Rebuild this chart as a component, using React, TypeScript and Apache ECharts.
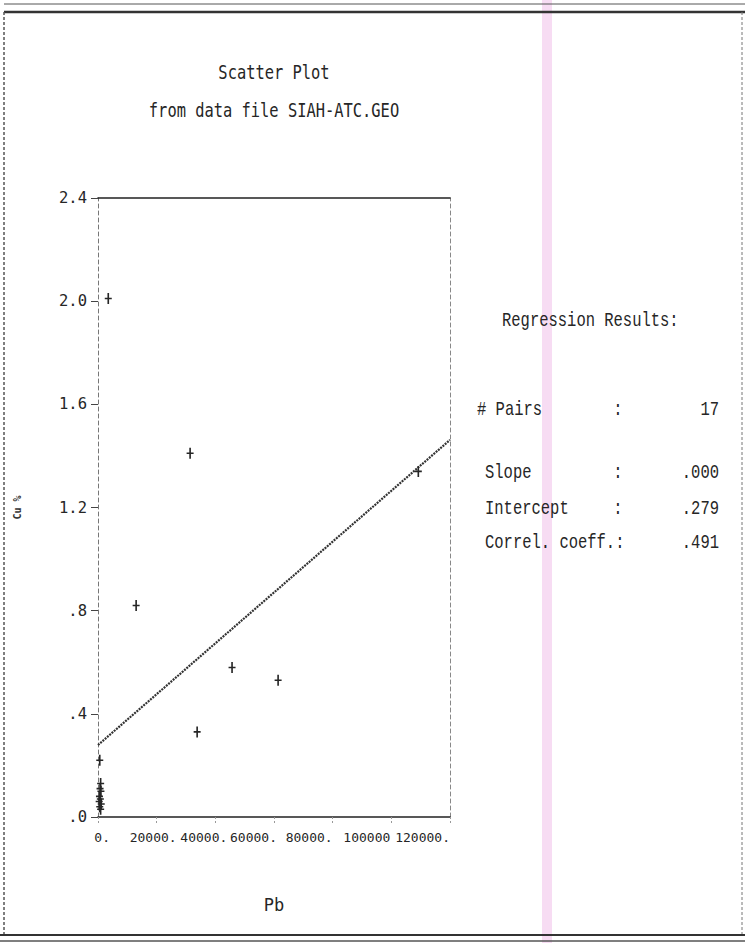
import React, { useEffect, useRef } from "react";
import * as echarts from "echarts";

// ---------- data ----------
const titleLines = ["Scatter Plot", "from data file SIAH-ATC.GEO"];
const xAxisName = "Pb";
const yAxisName = "Cu %";

const pbValues = [3500, 13000, 31400, 33800, 45700, 61400, 109200, 600, 900, 700, 1000, 500, 800, 400, 1100, 600, 900];
const yValues = [2.01, 0.82, 1.41, 0.33, 0.58, 0.53, 1.34, 0.22, 0.13, 0.11, 0.1, 0.08, 0.07, 0.06, 0.05, 0.04, 0.03];

const regressionX = [0, 120000];
const regressionY = [0.279, 1.462];

const xTickLabels = ["0.", "20000.", "40000.", "60000.", "80000.", "100000", "120000."];
const yTickLabels = [".0", ".4", ".8", "1.2", "1.6", "2.0", "2.4"];

const resultsTitle = "Regression Results:";
const resultLabels = ["# Pairs", "Slope", "Intercept", "Correl. coeff.:"];
const resultValues = ["17", ".000", ".279", ".491"];

// ---------- layout ----------
const W = 745;
const H = 943;
const rowY = [410, 473, 509, 543];
const labelX = [477, 485, 485, 485];
const xLabelShift = [12, 20, 12, 3, 0, -1, 0];

export default function App() {
  const ref = useRef<HTMLDivElement>(null);

  useEffect(() => {
    if (!ref.current) return;
    const chart = echarts.init(ref.current, null, { renderer: "svg" });
    const ink = "#262626";
    const mono = "'DejaVu Sans Mono', 'Liberation Mono', monospace";
    const mono2 = "'Liberation Mono', 'DejaVu Sans Mono', monospace";

    const scatterData = pbValues.map((x, i) => [x, yValues[i]]);
    const lineData = regressionX.map((x, i) => [x, regressionY[i]]);

    const rich: any = {};
    xLabelShift.forEach((s, i) => {
      rich["t" + i] = {
        fontFamily: mono,
        fontSize: 13,
        color: ink,
        padding: s >= 0 ? [0, -s, 0, 0] : [0, -s, 0, 0],
      };
    });

    const resultText = (t: string, x: number, y: number, align: string) => ({
      type: "text",
      x,
      y,
      scaleY: 1.35,
      style: { text: t, fill: ink, font: `15.5px ${mono2}`, align, verticalAlign: "middle" },
    });

    const graphics: any[] = [
      // pink scan band
      { type: "rect", z: -10, silent: true, shape: { x: 542, y: 0, width: 10, height: H }, style: { fill: "#f7dcf3" } },
      // frame
      { type: "line", shape: { x1: 4, y1: 4, x2: W, y2: 4 }, style: { stroke: "#555", lineWidth: 1 } },
      { type: "line", shape: { x1: 4, y1: 12, x2: W, y2: 12 }, style: { stroke: "#333", lineWidth: 2.5 } },
      { type: "line", shape: { x1: 4, y1: 12, x2: 4, y2: 936 }, style: { stroke: "#555", lineWidth: 1.5, lineDash: [3, 2] } },
      { type: "line", shape: { x1: 742, y1: 12, x2: 742, y2: 936 }, style: { stroke: "#777", lineWidth: 1, lineDash: [3, 2] } },
      { type: "line", shape: { x1: 0, y1: 935, x2: W, y2: 935 }, style: { stroke: "#333", lineWidth: 2 } },
      { type: "line", shape: { x1: 0, y1: 941, x2: W, y2: 941 }, style: { stroke: "#555", lineWidth: 1.5 } },
      // title
      ...titleLines.map((t, i) => ({
        type: "text",
        x: 274,
        y: i === 0 ? 72 : 110,
        scaleY: 1.3,
        style: { text: t, fill: ink, font: `15.4px ${mono}`, align: "center", verticalAlign: "middle" },
      })),
      // regression results
      resultText(resultsTitle, 502, 321, "left"),
      ...resultLabels.map((t, i) => resultText(t, labelX[i], rowY[i], "left")),
      ...resultLabels
        .map((t, i) => (t.endsWith(":") ? null : resultText(":", 618, rowY[i], "center")))
        .filter((g) => g !== null),
      ...resultValues.map((t, i) => resultText(t, 719, rowY[i], "right")),
    ];

    chart.setOption({
      animation: false,
      backgroundColor: "#ffffff",
      grid: { left: 98, right: W - 450, top: 198, bottom: H - 817, containLabel: false },
      xAxis: [
        {
          type: "value",
          position: "bottom",
          min: 0,
          max: 120000,
          interval: 20000,
          name: xAxisName,
          nameLocation: "middle",
          nameGap: 79,
          nameTextStyle: { fontFamily: mono, fontSize: 17, color: ink },
          axisLine: { show: true, onZero: false, lineStyle: { color: "#222", width: 1.6 } },
          axisTick: { show: true, length: 6, lineStyle: { color: "#999", width: 1, type: [2, 2] } },
          splitLine: { show: false },
          axisLabel: {
            margin: 14,
            align: "right",
            formatter: (v: number) => {
              const i = Math.round(v / 20000);
              const s = xTickLabels[i] ?? "";
              return `{t${i}|${s}}`;
            },
            rich,
          },
        },
        {
          type: "value",
          position: "top",
          min: 0,
          max: 120000,
          interval: 20000,
          axisLine: { show: true, onZero: false, lineStyle: { color: "#222", width: 1.6 } },
          axisTick: { show: false },
          axisLabel: { show: false },
          splitLine: { show: false },
        },
      ],
      yAxis: [
        {
          type: "value",
          position: "left",
          min: 0,
          max: 2.4,
          interval: 0.4,
          name: yAxisName,
          nameLocation: "middle",
          nameGap: 76,
          nameTextStyle: { fontFamily: mono, fontSize: 10, fontWeight: "bold", color: "#333" },
          axisLine: { show: true, onZero: false, lineStyle: { color: "#777", width: 1, type: [4, 3] } },
          axisTick: { show: true, length: 7, lineStyle: { color: "#444", width: 1 } },
          splitLine: { show: false },
          axisLabel: {
            margin: 11,
            fontFamily: mono,
            fontSize: 15.5,
            color: ink,
            formatter: (v: number) => yTickLabels[Math.round(v / 0.4)] ?? "",
          },
        },
        {
          type: "value",
          position: "right",
          min: 0,
          max: 2.4,
          interval: 0.4,
          axisLine: { show: true, onZero: false, lineStyle: { color: "#888", width: 1, type: [4, 3] } },
          axisTick: { show: false },
          axisLabel: { show: false },
          splitLine: { show: false },
        },
      ],
      series: [
        {
          type: "line",
          data: lineData,
          xAxisIndex: 0,
          yAxisIndex: 0,
          symbol: "none",
          lineStyle: { color: "#333", width: 2.2, type: [2, 1] },
          silent: true,
          z: 2,
        },
        {
          type: "scatter",
          data: scatterData,
          xAxisIndex: 0,
          yAxisIndex: 0,
          symbol: "path://M2.3,0 H3.7 V4.3 H6 V5.7 H3.7 V10 H2.3 V5.7 H0 V4.3 H2.3 Z",
          symbolSize: [7, 11],
          itemStyle: { color: "#262626", opacity: 1 },
          z: 3,
        },
      ],
      graphic: graphics,
    });

    return () => chart.dispose();
  }, []);

  return (
    <div
      ref={ref}
      style={{ position: "absolute", left: 0, top: 0, width: W, height: H, background: "#fff" }}
    />
  );
}
